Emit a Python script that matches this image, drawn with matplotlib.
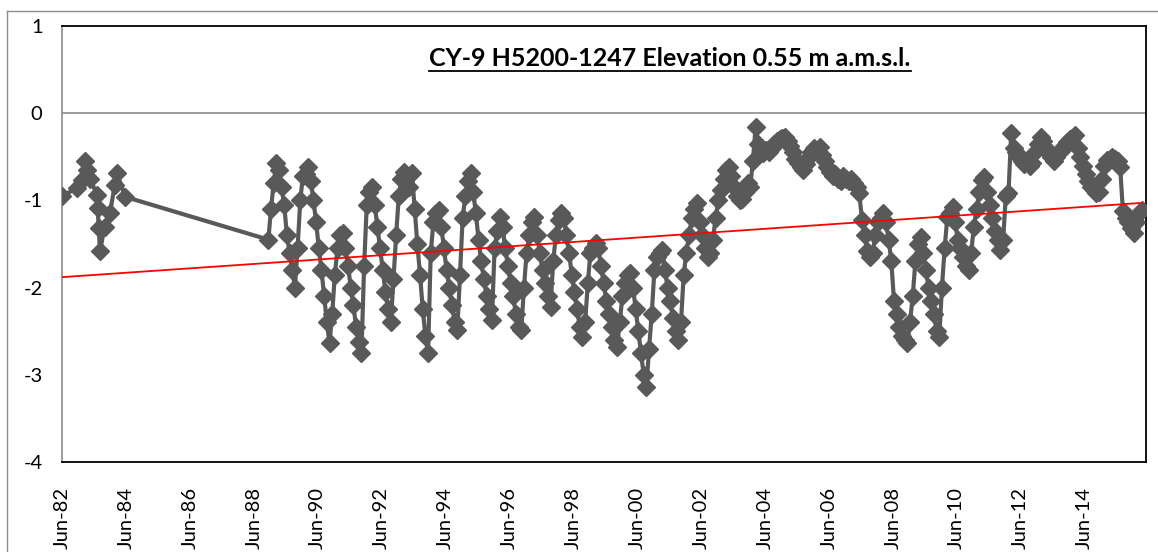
import matplotlib
matplotlib.use("Agg")
import matplotlib.pyplot as plt
from matplotlib.lines import Line2D
import pandas as pd

plt.rcParams['font.family'] = ['Lato', 'DejaVu Sans']
plt.rcParams['axes.unicode_minus'] = False

# early readings (1982-84)
early_dates = ["1982-06-01", "1982-11-20", "1983-01-15", "1983-02-20", "1983-03-15",
               "1983-04-20", "1983-07-05", "1983-07-15", "1983-07-25", "1983-08-10",
               "1983-10-01", "1983-12-01", "1984-01-25", "1984-02-20", "1984-05-25"]
early_levels = [-0.95, -0.86, -0.77, -0.55, -0.65,
                -0.75, -0.94, -1.09, -1.32, -1.58,
                -1.30, -1.15, -0.82, -0.69, -0.96]

# monthly readings from Nov 1988
monthly_start = "1988-11"
monthly_levels = [
    -1.45, -1.10,                                                                  # 1988
    -0.80, -0.57, -0.65, -0.85, -1.05, -1.40, -1.60, -1.80, -2.00, -1.55, -1.00, -0.72,  # 1989
    -0.70, -0.62, -0.78, -1.00, -1.25, -1.55, -1.80, -2.10, -2.40, -2.64, -2.30, -1.85,  # 1990
    -1.55, -1.40, -1.37, -1.55, -1.75, -2.00, -2.20, -2.45, -2.62, -2.75, -1.75, -1.05,  # 1991
    -0.90, -0.85, -1.05, -1.30, -1.55, -1.80, -2.05, -2.25, -2.40, -1.90, -1.40, -0.95,  # 1992
    -0.75, -0.67, -0.72, -0.85, -0.69, -1.10, -1.50, -1.85, -2.25, -2.55, -2.75, -1.60,  # 1993
    -1.25, -1.15, -1.11, -1.30, -1.55, -1.80, -2.00, -2.20, -2.40, -2.49, -1.85, -1.20,  # 1994
    -0.95, -0.78, -0.69, -0.90, -1.15, -1.45, -1.70, -1.90, -2.10, -2.25, -2.37, -1.55,  # 1995
    -1.35, -1.19, -1.30, -1.55, -1.75, -1.95, -2.10, -2.30, -2.45, -2.49, -2.00, -1.60,  # 1996
    -1.40, -1.25, -1.19, -1.40, -1.60, -1.80, -1.95, -2.10, -2.22, -1.70, -1.40, -1.22,  # 1997
    -1.15, -1.20, -1.40, -1.60, -1.85, -2.05, -2.25, -2.45, -2.57, -2.40, -1.95, -1.60,  # 1998
    -1.55, -1.49, -1.55, -1.75, -1.95, -2.15, -2.30, -2.45, -2.60, -2.68, -2.40, -2.10,  # 1999
    -1.95, -1.85, -1.83, -2.00, -2.25, -2.50, -2.75, -3.00, -3.14, -2.70, -2.30, -1.80,  # 2000
    -1.65, -1.60, -1.57, -1.80, -2.00, -2.15, -2.35, -2.50, -2.60, -2.40, -1.85, -1.60,  # 2001
    -1.40, -1.20, -1.10, -1.03, -1.25, -1.40, -1.55, -1.65, -1.60, -1.45, -1.20, -1.00,  # 2002
    -0.88, -0.75, -0.65, -0.62, -0.72, -0.85, -0.95, -1.00, -0.98, -0.90, -0.80, -0.85,  # 2003
    -0.55, -0.16, -0.35, -0.42, -0.46, -0.42, -0.45, -0.40, -0.35, -0.32, -0.30, -0.28,  # 2004
    -0.27, -0.32, -0.38, -0.45, -0.52, -0.57, -0.62, -0.65, -0.58, -0.50, -0.45, -0.40,  # 2005
    -0.42, -0.39, -0.48, -0.55, -0.62, -0.68, -0.72, -0.70, -0.75, -0.78, -0.72, -0.75,  # 2006
    -0.78, -0.75, -0.80, -0.85, -0.92, -1.22, -1.40, -1.58, -1.65, -1.60, -1.40, -1.25,  # 2007
    -1.20, -1.15, -1.25, -1.45, -1.69, -2.15, -2.30, -2.45, -2.55, -2.60, -2.64, -2.40,  # 2008
    -2.10, -1.70, -1.50, -1.42, -1.60, -1.80, -2.00, -2.15, -2.30, -2.50, -2.57, -2.00,  # 2009
    -1.55, -1.19, -1.15, -1.08, -1.25, -1.45, -1.55, -1.65, -1.75, -1.80, -1.60, -1.30,  # 2010
    -1.10, -0.90, -0.77, -0.73, -0.90, -1.05, -1.20, -1.35, -1.45, -1.57, -1.45, -0.95,  # 2011
    -0.92, -0.23, -0.40, -0.45, -0.50, -0.55, -0.58, -0.55, -0.60, -0.57, -0.45, -0.35,  # 2012
    -0.27, -0.32, -0.40, -0.45, -0.50, -0.55, -0.50, -0.45, -0.42, -0.38, -0.33, -0.30,  # 2013
    -0.28, -0.25, -0.40, -0.50, -0.60, -0.70, -0.78, -0.85, -0.88, -0.92, -0.90, -0.75,  # 2014
    -0.60, -0.54, -0.52, -0.50, -0.52, -0.55, -0.62, -1.12, -1.20, -1.25, -1.32, -1.37,  # 2015
    -1.25, -1.15, -1.11,                                                           # 2016
]

trend_dates = ["1982-06-01", "2016-02-25"]
trend_levels = [-1.88, -1.03]

tick_labels = ["Jun-82", "Jun-84", "Jun-86", "Jun-88", "Jun-90", "Jun-92", "Jun-94",
               "Jun-96", "Jun-98", "Jun-00", "Jun-02", "Jun-04", "Jun-06", "Jun-08",
               "Jun-10", "Jun-12", "Jun-14"]
y_ticks = [-4, -3, -2, -1, 0, 1]
title = "CY-9 H5200-1247 Elevation 0.55 m a.m.s.l."

monthly_dates = (pd.period_range(monthly_start, periods=len(monthly_levels), freq="M")
                 .to_timestamp() + pd.Timedelta(days=14))
dates = list(pd.to_datetime(early_dates)) + list(monthly_dates)
levels = early_levels + monthly_levels

fig = plt.figure(figsize=(11.58, 5.52), dpi=100)
ax = fig.add_axes([62 / 1158, 1 - 462 / 552, (1146 - 62) / 1158, (462 - 26) / 552])

ax.axhline(0, color="#8c8c8c", lw=1.2, zorder=1)
ax.plot(dates, levels, color="#595959", lw=3.0, marker="D", markersize=9.5,
        markerfacecolor="#595959", markeredgecolor="#595959", zorder=3)
ax.plot(pd.to_datetime(trend_dates), trend_levels, color="#ff0000", lw=1.3, zorder=4)

ax.set_ylim(-4, 1)
ax.set_yticks(y_ticks)
ax.set_xlim(pd.Timestamp("1982-06-01"), pd.Timestamp("2016-05-05"))
ax.set_xticks(pd.to_datetime(tick_labels, format="%b-%y"))
ax.set_xticklabels(tick_labels, rotation=90, va="top", ha="center")
ax.tick_params(axis="both", length=0, labelsize=14.5, colors="black")
ax.tick_params(axis="x", labelsize=14.5, pad=18)
ax.tick_params(axis="y", pad=14)

for side in ["top", "right", "bottom"]:
    ax.spines[side].set_color("black")
    ax.spines[side].set_linewidth(1.3)
ax.spines["left"].set_color("#8c8c8c")
ax.spines["left"].set_linewidth(1.2)

t = ax.text(0.561, 0.925, title, transform=ax.transAxes, ha="center", va="center",
            fontsize=18, fontweight="bold")

# outer chart frame (left and top edges)
fig.add_artist(Line2D([7 / 1158, 7 / 1158], [-0.1, 1 - 11 / 552], transform=fig.transFigure,
                      color="#8c8c8c", lw=1.0))
fig.add_artist(Line2D([7 / 1158, 1.1], [1 - 11 / 552, 1 - 11 / 552], transform=fig.transFigure,
                      color="#8c8c8c", lw=1.0))

# underline the title
fig.canvas.draw()
bb = t.get_window_extent()
inv = fig.transFigure.inverted()
(x0, y0), (x1, _) = inv.transform([[bb.x0, bb.y0], [bb.x1, bb.y0]])
fig.add_artist(Line2D([x0, x1], [y0 - 0.002, y0 - 0.002], transform=fig.transFigure,
                      color="black", lw=1.3))

fig.savefig("out.png", dpi=100)
